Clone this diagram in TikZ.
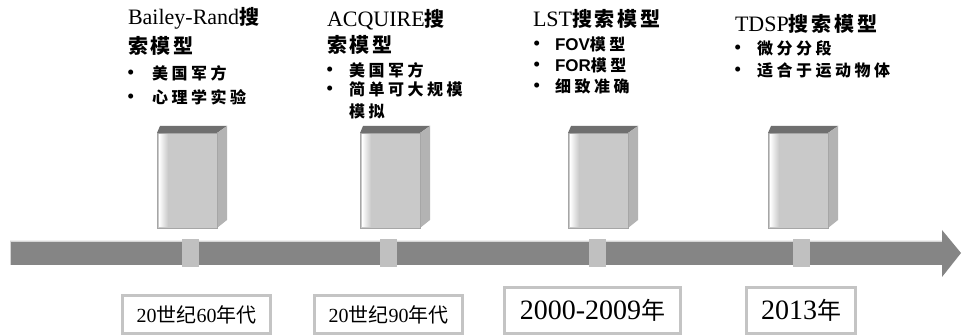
\documentclass[tikz,border=0pt]{standalone}
\usepackage{fontspec}
\setmainfont{Liberation Serif}
\newfontfamily\sansf{Liberation Sans}
\newfontfamily\cjkT{Noto Sans CJK SC}[LetterSpace=14]
\newfontfamily\cjkI{Noto Sans CJK SC}[LetterSpace=22]
\newfontfamily\cjkD{Noto Sans CJK SC}
\definecolor{barc}{HTML}{858585}
\definecolor{barline}{HTML}{D6D6D6}
\definecolor{tickc}{HTML}{C0C0C0}
\definecolor{boxc}{HTML}{C4C4C4}
\definecolor{frontc}{HTML}{C9C9C9}
\definecolor{sidec}{HTML}{B3B3B3}
\definecolor{topc}{HTML}{6F6F6F}
\definecolor{edgec}{HTML}{A6A6A6}
\newcommand\ct[1]{{\cjkT\bfseries\fontsize{20}{20}\selectfont #1}}
\newcommand\ci[1]{{\cjkI\bfseries\fontsize{16}{16}\selectfont #1}}
\newcommand\bul{{\fontsize{21}{21}\selectfont\textbullet}}
\newcommand\cuboid[2]{%
  \begin{scope}[shift={(#1,0)}]
    \fill[topc] (0,133) -- (60,133) -- (70,126) -- (3,126) -- cycle;
    \fill[sidec] (60,133) -- (70,126) -- (70,220) -- (60,228) -- cycle;
    \fill[frontc] (0,133) rectangle (60,228);
    \shade[left color=white, right color=frontc] (2,134) rectangle (11,227);
    \draw[edgec, line width=0.8pt] (0,133) rectangle (60,228);
    \coordinate (#2) at (30,180);
  \end{scope}}
\tikzset{
  lbl/.style={anchor=base west, inner sep=0pt, outer sep=0pt},
  tickbox/.style={fill=tickc, draw=none, minimum width=17pt, minimum height=28pt, inner sep=0pt},
  datebox/.style={draw=boxc, line width=3pt, fill=white, inner sep=0pt},
}
\begin{document}
\begin{tikzpicture}[x=1pt,y=-1pt]
\useasboundingbox (0,0) rectangle (962,336);
\fill[white] (0,0) rectangle (962,336);

% cuboids
\cuboid{157}{c1}
\cuboid{360}{c2}
\cuboid{568}{c3}
\cuboid{768}{c4}

% timeline arrow
\fill[barc] (10,241) -- (942,241) -- (942,230) -- (961,253) -- (942,277) -- (942,265) -- (10,265) -- cycle;
\draw[barline, line width=0.8pt] (10,241) -- (10,265);
\draw[barline, line width=0.8pt] (10,241) -- (942,241);

% tick squares
\node[tickbox] (k1) at (190.5,253) {};
\node[tickbox] (k2) at (388.5,253) {};
\node[tickbox] (k3) at (597,253) {};
\node[tickbox] (k4) at (801.5,253) {};

% date boxes
\node[datebox, minimum width=148pt, minimum height=38pt] (d1) at (196.5,314.5)
  {\fontsize{20}{20}\selectfont 20{\cjkD 世纪}60{\cjkD 年代}};
\node[datebox, minimum width=148pt, minimum height=38pt] (d2) at (388.5,314.5)
  {\fontsize{20}{20}\selectfont 20{\cjkD 世纪}90{\cjkD 年代}};
\node[datebox, minimum width=176pt, minimum height=46pt] (d3) at (592.5,310.5)
  {\fontsize{28}{28}\selectfont 2000-2009{\cjkD\fontsize{24}{24}\selectfont 年}};
\node[datebox, minimum width=109pt, minimum height=46pt] (d4) at (801,310.5)
  {\fontsize{28}{28}\selectfont 2013{\cjkD\fontsize{24}{24}\selectfont 年}};

% group 1
\node[lbl] (g1t1) at (128,25) {\fontsize{22}{22}\selectfont Bailey-Rand\ct{搜}};
\node[lbl] (g1t2) at (128,54) {\ct{索模型}};
\node[lbl] (g1b1) at (127,80) {\bul};
\node[lbl] (g1i1) at (152,80) {\ci{美国军方}};
\node[lbl] (g1b2) at (127,104) {\bul};
\node[lbl] (g1i2) at (152,104) {\ci{心理学实验}};

% group 2
\node[lbl] (g2t1) at (327,27) {\fontsize{22}{22}\selectfont ACQUIRE\ct{搜}};
\node[lbl] (g2t2) at (327,53) {\ct{索模型}};
\node[lbl] (g2b1) at (326,77) {\bul};
\node[lbl] (g2i1) at (349,77) {\ci{美国军方}};
\node[lbl] (g2b2) at (326,96) {\bul};
\node[lbl] (g2i2) at (349,96) {\ci{简单可大规模}};
\node[lbl] (g2i3) at (349,118) {\ci{模拟}};

% group 3
\node[lbl] (g3t1) at (533,27) {\fontsize{22}{22}\selectfont LST\ct{搜索模型}};
\node[lbl] (g3b1) at (533,51) {\bul};
\node[lbl] (g3i1) at (555,51) {{\sansf\bfseries\fontsize{17}{17}\selectfont FOV}\ci{模型}};
\node[lbl] (g3b2) at (533,72) {\bul};
\node[lbl] (g3i2) at (555,72) {{\sansf\bfseries\fontsize{17}{17}\selectfont FOR}\ci{模型}};
\node[lbl] (g3b3) at (533,93) {\bul};
\node[lbl] (g3i3) at (555,93) {\ci{细致准确}};

% group 4
\node[lbl] (g4t1) at (735,32) {\fontsize{22}{22}\selectfont TDSP\ct{搜索模型}};
\node[lbl] (g4b1) at (734,55) {\bul};
\node[lbl] (g4i1) at (757,55) {\ci{微分分段}};
\node[lbl] (g4b2) at (734,77) {\bul};
\node[lbl] (g4i2) at (757,77) {\ci{适合于运动物体}};
\end{tikzpicture}
\end{document}
